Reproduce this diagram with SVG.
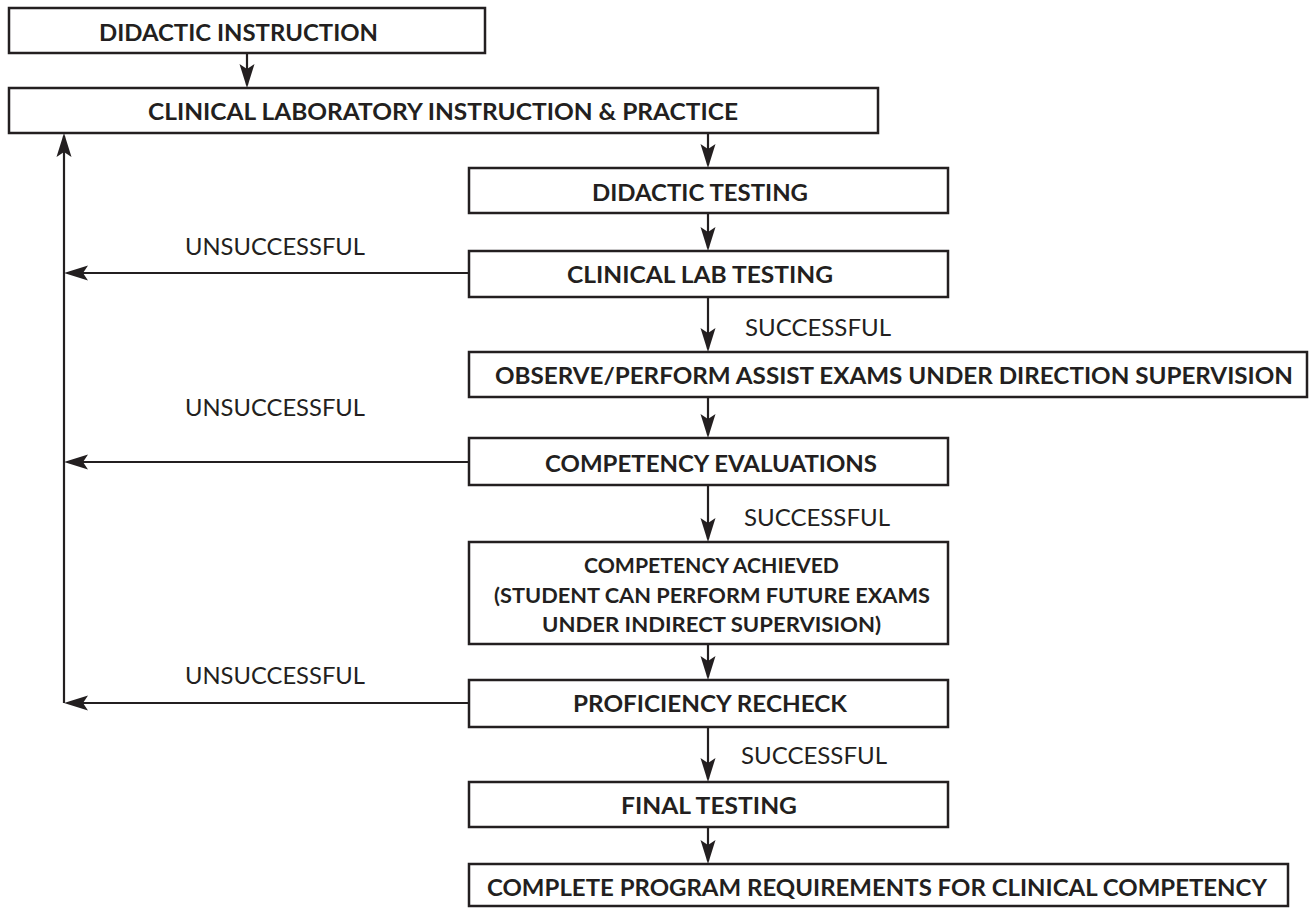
<svg xmlns="http://www.w3.org/2000/svg" width="1316" height="909" viewBox="0 0 1316 909">
<style>
.box{fill:#fff;stroke:#231f20;stroke-width:2.5}
.t{font-family:Lato,"Liberation Sans",sans-serif;font-weight:bold;font-size:23.5px;fill:#231f20;text-anchor:middle}
.s{font-size:20px}
.l{font-family:Lato,"Liberation Sans",sans-serif;font-size:23.5px;fill:#231f20;text-anchor:middle}
.c{fill:none;stroke:#231f20;stroke-width:2.2;marker-end:url(#ah)}
</style>
<defs>
<marker id="ah" markerUnits="userSpaceOnUse" markerWidth="30" markerHeight="20" refX="-3" refY="0" orient="auto" overflow="visible">
<path d="M0,0 L-24,-7.5 L-19,0 L-24,7.5 Z" fill="#231f20"/>
</marker>
</defs>
<rect width="1316" height="909" fill="#fff"/>
<g id="connectors">
<path class="c" d="M247,53 V85"/>
<path class="c" d="M708,133 V165"/>
<path class="c" d="M708,213 V248"/>
<path class="c" d="M708,297 V349"/>
<path class="c" d="M708,397 V435"/>
<path class="c" d="M708,485 V539"/>
<path class="c" d="M708,644 V677"/>
<path class="c" d="M708,727 V779"/>
<path class="c" d="M708,827 V861"/>
<path class="c" d="M469,273 H67"/>
<path class="c" d="M469,462 H67"/>
<path class="c" d="M469,703 H67"/>
<path class="c" d="M64,703 V136"/>
<text class="l" x="275" y="255" textLength="180" lengthAdjust="spacingAndGlyphs">UNSUCCESSFUL</text>
<text class="l" x="275" y="416" textLength="180" lengthAdjust="spacingAndGlyphs">UNSUCCESSFUL</text>
<text class="l" x="275" y="684" textLength="180" lengthAdjust="spacingAndGlyphs">UNSUCCESSFUL</text>
<text class="l" x="818" y="336" textLength="146" lengthAdjust="spacingAndGlyphs">SUCCESSFUL</text>
<text class="l" x="817" y="526" textLength="146" lengthAdjust="spacingAndGlyphs">SUCCESSFUL</text>
<text class="l" x="814" y="764" textLength="146" lengthAdjust="spacingAndGlyphs">SUCCESSFUL</text>
</g>
<g id="didactic-instruction">
<rect class="box" x="9" y="8" width="476" height="45"/>
<text class="t" x="238.5" y="41" textLength="279" lengthAdjust="spacingAndGlyphs">DIDACTIC INSTRUCTION</text>
</g>
<g id="clinical-lab-instruction">
<rect class="box" x="9" y="88" width="869" height="45"/>
<text class="t" x="443" y="120" textLength="590" lengthAdjust="spacingAndGlyphs">CLINICAL LABORATORY INSTRUCTION &amp; PRACTICE</text>
</g>
<g id="didactic-testing">
<rect class="box" x="469" y="168" width="479" height="45"/>
<text class="t" x="700" y="201" textLength="216" lengthAdjust="spacingAndGlyphs">DIDACTIC TESTING</text>
</g>
<g id="clinical-lab-testing">
<rect class="box" x="469" y="251" width="479" height="46"/>
<text class="t" x="700" y="283" textLength="266" lengthAdjust="spacingAndGlyphs">CLINICAL LAB TESTING</text>
</g>
<g id="observe-perform">
<rect class="box" x="469" y="352" width="838" height="45"/>
<text class="t" x="894" y="384" textLength="798" lengthAdjust="spacingAndGlyphs">OBSERVE/PERFORM ASSIST EXAMS UNDER DIRECTION SUPERVISION</text>
</g>
<g id="competency-evaluations">
<rect class="box" x="469" y="438" width="479" height="47"/>
<text class="t" x="711" y="472" textLength="332" lengthAdjust="spacingAndGlyphs">COMPETENCY EVALUATIONS</text>
</g>
<g id="competency-achieved">
<rect class="box" x="469" y="542" width="479" height="102"/>
<text class="t s" x="711.5" y="573" textLength="255" lengthAdjust="spacingAndGlyphs">COMPETENCY ACHIEVED</text>
<text class="t s" x="712" y="603" textLength="436" lengthAdjust="spacingAndGlyphs">(STUDENT CAN PERFORM FUTURE EXAMS</text>
<text class="t s" x="711.5" y="632" textLength="339" lengthAdjust="spacingAndGlyphs">UNDER INDIRECT SUPERVISION)</text>
</g>
<g id="proficiency-recheck">
<rect class="box" x="469" y="680" width="479" height="47"/>
<text class="t" x="710" y="712" textLength="274" lengthAdjust="spacingAndGlyphs">PROFICIENCY RECHECK</text>
</g>
<g id="final-testing">
<rect class="box" x="469" y="782" width="479" height="45"/>
<text class="t" x="709" y="814" textLength="176" lengthAdjust="spacingAndGlyphs">FINAL TESTING</text>
</g>
<g id="complete-program">
<rect class="box" x="469" y="864" width="819" height="42"/>
<text class="t" x="877" y="896" textLength="780" lengthAdjust="spacingAndGlyphs">COMPLETE PROGRAM REQUIREMENTS FOR CLINICAL COMPETENCY</text>
</g>
</svg>
